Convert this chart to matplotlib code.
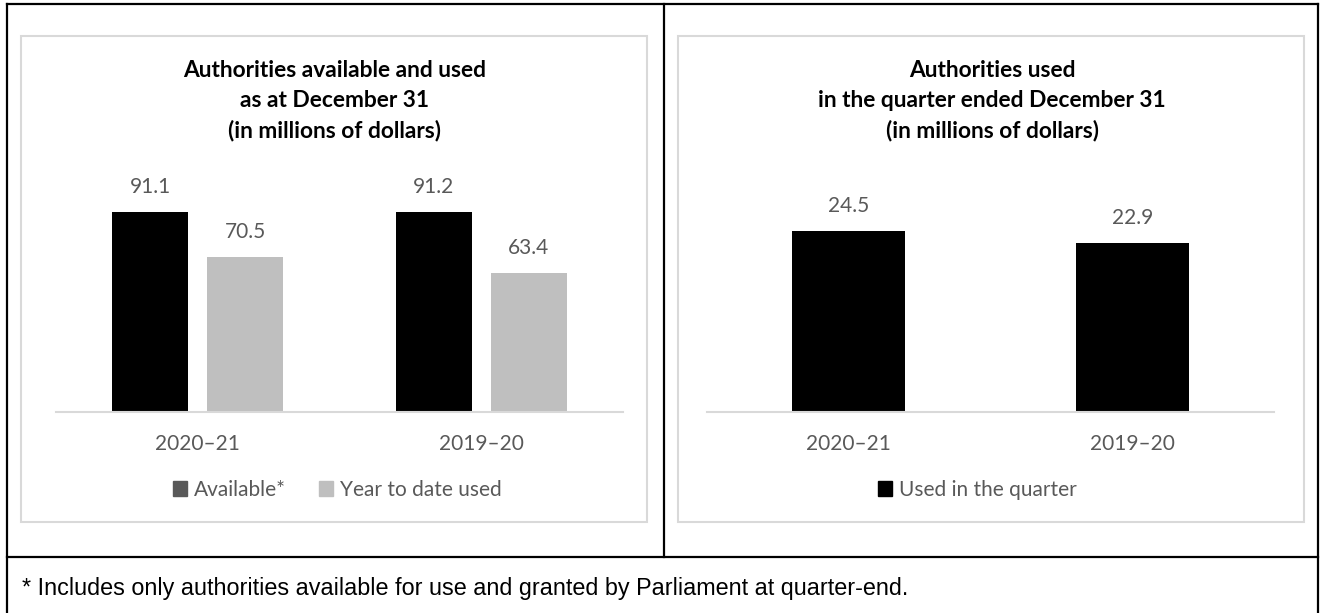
import matplotlib
matplotlib.use('Agg')
import matplotlib.pyplot as plt
from matplotlib.patches import Patch, Rectangle
from matplotlib.lines import Line2D
import numpy as np

W, H = 1322, 613

# data
years = ['2020\u201321', '2019\u201320']
available = [91.1, 91.2]
ytd_used = [70.5, 63.4]
quarter_used = [24.5, 22.9]

left_title = 'Authorities available and used\nas at December 31\n(in millions of dollars)'
right_title = 'Authorities used\nin the quarter ended December 31\n(in millions of dollars)'
footnote = '* Includes only authorities available for use and granted by Parliament at quarter-end.'

TXT = '#595959'
GRID = '#D9D9D9'
FONT = 'Lato'


def fx(x):
    return x / W


def fy(y):
    return 1 - y / H


def px_axes(fig, x0, y0, x1, y1):
    # pixel box (top-left origin) -> axes
    return fig.add_axes([fx(x0), fy(y1), (x1 - x0) / W, (y1 - y0) / H])


def style_axes(ax):
    for s in ['top', 'right', 'left']:
        ax.spines[s].set_visible(False)
    ax.spines['bottom'].set_color(GRID)
    ax.spines['bottom'].set_linewidth(1.5)
    ax.set_yticks([])
    ax.tick_params(axis='x', length=0, pad=16, labelsize=15, labelcolor=TXT)
    for lab in ax.get_xticklabels():
        lab.set_fontfamily(FONT)
    ax.set_facecolor('none')


def bar_labels(ax, bars, vals):
    for b, v in zip(bars, vals):
        ax.annotate('%.1f' % v, (b.get_x() + b.get_width() / 2, b.get_height()),
                    xytext=(0, 18), textcoords='offset points', ha='center', va='center',
                    fontsize=15, color=TXT, fontfamily=FONT)


fig = plt.figure(figsize=(W / 100, H / 100), dpi=100)

# table borders
lw = 1.6
for (x0, y0, x1, y1) in [(7, 4, 1318, 4), (7, 4, 7, 613), (1318, 4, 1318, 613),
                         (664, 4, 664, 557), (7, 557, 1318, 557)]:
    fig.add_artist(Line2D([fx(x0), fx(x1)], [fy(y0), fy(y1)], color='black', lw=lw))

# chart frames
for (x0, x1) in [(21, 647), (678, 1304)]:
    fig.add_artist(Rectangle((fx(x0), fy(522)), (x1 - x0) / W, (522 - 36) / H,
                             fill=False, edgecolor=GRID, lw=1.5))

# left chart
ax1 = px_axes(fig, 56, 162, 623, 412)
x = np.arange(len(years))
bw = 0.268
gap = 0.067
b1 = ax1.bar(x - (bw + gap) / 2, available, bw, color='black')
b2 = ax1.bar(x + (bw + gap) / 2, ytd_used, bw, color='#BFBFBF')
ax1.set_xlim(-0.5, 1.5)
ax1.set_ylim(0, 250 / (200 / 91.1))
ax1.set_xticks(x)
ax1.set_xticklabels(years)
style_axes(ax1)
bar_labels(ax1, b1, available)
bar_labels(ax1, b2, ytd_used)

fig.text(fx(335), fy(101), left_title, ha='center', va='center', fontsize=16.4,
         fontweight='bold', fontfamily=FONT, linespacing=1.5)
fig.legend(handles=[Patch(color='#595959', label='Available*'),
                    Patch(color='#BFBFBF', label='Year to date used')],
           loc='center', bbox_to_anchor=(fx(337), fy(490)), ncol=2, frameon=False,
           prop={'family': FONT, 'size': 15}, labelcolor=TXT, handlelength=0.7,
           handleheight=0.7, handletextpad=0.3, columnspacing=1.6)

# right chart
ax2 = px_axes(fig, 707, 162, 1274, 412)
b3 = ax2.bar(x, quarter_used, 0.4, color='black')
ax2.set_xlim(-0.5, 1.5)
ax2.set_ylim(0, 250 / (181 / 24.5))
ax2.set_xticks(x)
ax2.set_xticklabels(years)
style_axes(ax2)
bar_labels(ax2, b3, quarter_used)

fig.text(fx(992), fy(101), right_title, ha='center', va='center', fontsize=16.4,
         fontweight='bold', fontfamily=FONT, linespacing=1.5)
fig.legend(handles=[Patch(color='black', label='Used in the quarter')],
           loc='center', bbox_to_anchor=(fx(977), fy(490)), frameon=False,
           prop={'family': FONT, 'size': 15}, labelcolor=TXT, handlelength=0.7,
           handleheight=0.7, handletextpad=0.3)

fig.text(fx(22), fy(588), footnote, ha='left', va='center', fontsize=16.8,
         fontfamily='Liberation Sans', color='black')

fig.savefig('out.png', dpi=100)
